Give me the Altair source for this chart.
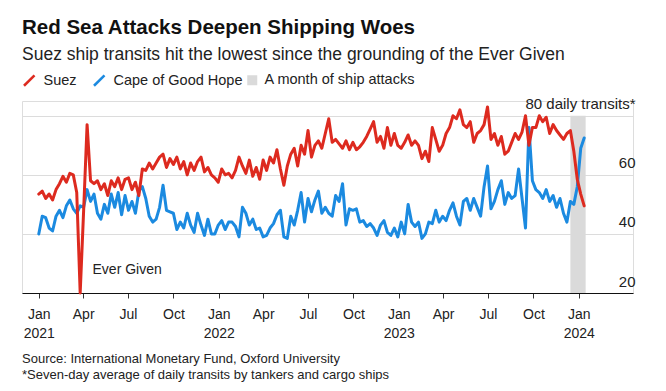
import altair as alt
import pandas as pd

# ---------------- data ----------------
start_date = "2021-01-01"   # weekly observations from this date
suez = [53.5,54.5,52,53.5,51.5,55,57,59.5,57.5,60.5,
        60,54,20,48,77,58,57,58,55,57,
        53,58,56,59,55,58.5,59,55,57.5,53,
        62,61.5,64,62,64,66,67,62.5,65.5,63.5,
        66,62,64.5,60,64,61.5,64.5,66,61,62.5,
        60,59,57.5,62,60,60.5,59,61.5,66,63,
        60.5,65,59.5,62.5,58.5,65,61.5,66,64,68.5,
        62,56.5,63,67,69,63,70,67,75,66,
        70,71.5,69,74,79,71,72,70.5,69,71.5,
        68.5,71,68.5,69.5,71,73,75.5,78,71,73,
        69,76,70,74,70,69,71,73.5,70,71.5,
        70,65.5,68,64.5,76,72,68,70,74,76,
        80,79,82,77,76,78,71,74,75,77,
        83,72,74,70,73,67,68,71,74,72,
        74.5,80,70,76,76,80,78,79.5,74,77,
        75,73.5,72,74,75,68,58.5,53.5,49.5]
cape = [40,46,45.5,42,41,46,48,45.5,49.5,51.5,
        48.5,47,49.5,49,55,51,53.5,47,45,50,
        47,53.5,49,54,46.5,53,48,51,47,54.5,
        56,52,46,44,45,49,56.5,48,47.5,47,
        41.5,44,42,47,43,40.5,47,43,39.5,45,
        40,40,43,44.5,41.5,44,44,42.5,39,49,
        47,43,45,41.5,42,39,39.5,42,43.5,46.5,
        48,39,38.5,46,43,48,54,44,52,47.5,
        51.5,54.5,47,49,47,46,53,51,57,43,
        48.5,48,48.5,44,44.5,42.5,43.5,42,39.5,43,
        44.5,40.5,39.5,42,39,44,40,50,44,42.5,
        44,38.5,40,44,43.5,48,44,46,44.5,48,
        50.5,46,43,51,52,48,52,49,46,56,
        63,48.5,51,55,58,50,54,52,53,62,
        52,42,76,58,55,54,52,55,51,53,
        49,52,47,44,51,50,56,69,72.5]
series_names = ["Suez", "Cape of Good Hope"]
tick_dates = ["2021-01-01", "2021-04-01", "2021-07-01", "2021-10-01",
              "2022-01-01", "2022-04-01", "2022-07-01", "2022-10-01",
              "2023-01-01", "2023-04-01", "2023-07-01", "2023-10-01",
              "2024-01-01"]
y_ticks = [20, 40, 60, 80]
band_label = "A month of ship attacks"
band_start, band_end = "2023-12-15", "2024-01-15"
band_low, band_high = 20, 80
annotation = {"date": "2021-04-20", "value": 27.8, "text": "Ever Given"}
title_text = "Red Sea Attacks Deepen Shipping Woes"
subtitle_text = "Suez ship transits hit the lowest since the grounding of the Ever Given"
source_lines = ["Source: International Monetary Fund, Oxford University",
                "*Seven-day average of daily transits by tankers and cargo ships"]

# ---------------- styling ----------------
FONT = "Liberation Sans"
RED = "#dd2a1f"
BLUE = "#1b8ae0"
GREY_BAND = "#dadada"
W, H = 611, 192

dates = pd.date_range(start_date, periods=len(suez), freq="7D").strftime("%Y-%m-%d")
df_suez = pd.DataFrame({"date": dates, "value": suez, "series": series_names[0]})
df_cape = pd.DataFrame({"date": dates, "value": cape, "series": series_names[1]})
band_df = pd.DataFrame({"start": [band_start], "end": [band_end],
                        "low": [band_low], "high": [band_high], "label": [band_label]})
ann_df = pd.DataFrame([annotation])
src_df = pd.DataFrame({"text": ["\n".join(source_lines)]})


def dt(s):
    y, m, d = (int(p) for p in s.split("-"))
    return alt.DateTime(year=y, month=m, date=d, utc=True)


x_scale = alt.Scale(type="utc", domain=[dt("2020-11-28"), dt("2024-04-20")])
y_scale = alt.Scale(domain=[20, 85], nice=False, zero=False)

x_axis = alt.Axis(
    values=[dt(s) for s in tick_dates],
    labelExpr="utcFormat(datum.value, '%m') == '01' ? [utcFormat(datum.value, '%b'), utcFormat(datum.value, '%Y')] : utcFormat(datum.value, '%b')",
    title=None, grid=False, domain=True, domainColor="#111", domainWidth=1,
    ticks=True, tickColor="#333", tickSize=5, tickWidth=1,
    labelFont=FONT, labelFontSize=14, labelColor="#222", labelPadding=9,
    labelLineHeight=19, labelAngle=0, labelFlush=False, labelOverlap=False,
)
y_axis = alt.Axis(
    orient="right", values=y_ticks, title=None, grid=True, gridColor="#dcdcdc",
    gridWidth=1, domain=False, ticks=False, tickSize=0,
    labelExpr="datum.value == 80 ? '80 daily transits*' : datum.label",
    labelAlign="right", labelBaseline="alphabetic", labelPadding=2, labelOffset=-7,
    labelFont=FONT, labelFontSize=15, labelColor="#222",
)

color_enc = alt.Color(
    "series:N",
    scale=alt.Scale(domain=series_names, range=[RED, BLUE]),
    legend=alt.Legend(
        orient="none", legendX=0, legendY=-28, direction="horizontal", title=None,
        symbolType="M-1,1L1,-1", symbolSize=110, symbolStrokeWidth=2.5,
        labelFont=FONT, labelFontSize=14.5, labelColor="#222",
        columnPadding=12, labelOffset=7, padding=0,
    ),
)

band = alt.Chart(band_df).mark_rect(opacity=1).encode(
    x=alt.X("start:T", scale=x_scale, axis=x_axis),
    x2="end:T",
    y=alt.Y("high:Q", scale=y_scale, axis=y_axis),
    y2="low:Q",
    fill=alt.Fill("label:N", scale=alt.Scale(range=[GREY_BAND]),
                  legend=alt.Legend(orient="none", legendX=223, legendY=-28, title=None,
                                    symbolType="square", symbolSize=100,
                                    labelFont=FONT, labelFontSize=14.5, labelColor="#222",
                                    labelOffset=5, padding=0)),
)

def line_layer(df):
    return alt.Chart(df).mark_line(strokeWidth=3, strokeJoin="round", strokeCap="round").encode(
        x=alt.X("date:T", scale=x_scale, axis=x_axis),
        y=alt.Y("value:Q", scale=y_scale, axis=y_axis),
        color=color_enc,
    )

ann = alt.Chart(ann_df).mark_text(align="left", baseline="middle", font=FONT,
                                  fontSize=14, color="#222").encode(
    x=alt.X("date:T", scale=x_scale), y=alt.Y("value:Q", scale=y_scale), text="text:N")

src = alt.Chart(src_df).mark_text(align="left", baseline="top", font=FONT, fontSize=13,
                                  color="#222", lineBreak="\n", lineHeight=15.5).encode(
    x=alt.value(0), y=alt.value(252), text="text:N")

chart = alt.layer(band, line_layer(df_cape), line_layer(df_suez), ann, src).properties(
    width=W, height=H,
    autosize=alt.AutoSizeParams(type="none"),
    padding={"left": 14, "top": 93, "right": 25, "bottom": 90},
    title=alt.TitleParams(
        text=title_text, subtitle=subtitle_text, anchor="start", frame="group",
        font=FONT, fontSize=20.5, fontWeight="bold", color="#111",
        subtitleFont=FONT, subtitleFontSize=17.5, subtitleColor="#222",
        subtitlePadding=7, offset=10,
    ),
).configure_view(stroke=None).configure(background="white")

chart.save("out.html", embed_options={"renderer": "svg", "actions": False})
